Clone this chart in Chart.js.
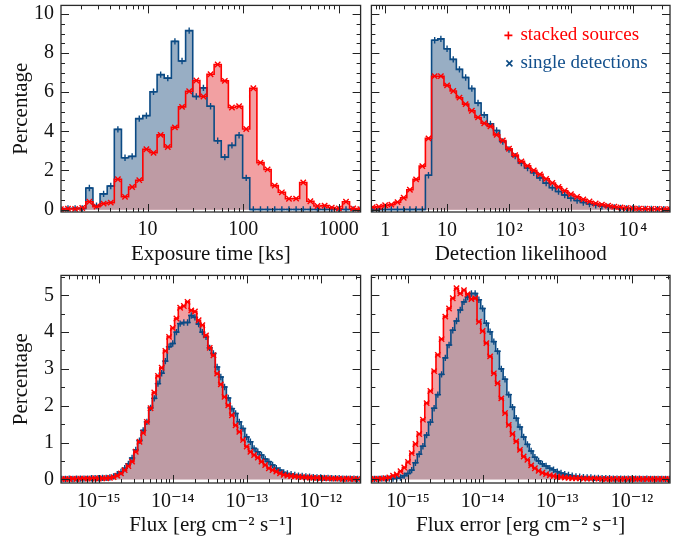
<!DOCTYPE html>
<html>
<head>
<meta charset="utf-8">
<script src="https://cdn.jsdelivr.net/npm/chart.js@4.4.1/dist/chart.umd.min.js"></script>
<style>
html,body{margin:0;padding:0;background:#ffffff;}
#wrap{position:relative;width:688px;height:543px;overflow:hidden;background:#fff;}
.pane{position:absolute;}
canvas{display:block;}
</style>
</head>
<body>
<div id="wrap">
  <div class="pane" style="left:0px;top:0px;"><canvas id="cExp" width="366" height="270"></canvas></div>
  <div class="pane" style="left:366px;top:0px;"><canvas id="cDet" width="322" height="270"></canvas></div>
  <div class="pane" style="left:0px;top:270px;"><canvas id="cFlux" width="366" height="273"></canvas></div>
  <div class="pane" style="left:366px;top:270px;"><canvas id="cFerr" width="322" height="273"></canvas></div>
</div>
<script>
// ---------------- DATA ----------------
// Exposure time [ks]: bins uniform in log10, start edge and width (dex)
const expLogStart = 0.055;
const expLogWidth = 0.0746;
const expStacked = [0.02,0.04,0.03,0.08,0.40,0.15,0.30,0.35,1.55,0.65,1.15,1.50,3.08,2.90,3.82,3.20,4.20,5.25,6.05,6.60,5.78,6.92,7.42,6.58,5.22,5.28,4.12,6.20,2.40,2.05,1.22,0.88,0.55,0.56,1.38,0.42,0.18,0.20,0.10,0.05,0.40,0.05,0.02];
const expSingle  = [0.02,0.05,0.06,0.05,1.10,0.20,0.80,1.20,4.10,2.65,2.72,4.65,4.80,6.02,6.90,6.72,8.60,7.60,9.15,5.78,6.22,5.28,3.52,2.68,3.28,3.80,1.62,0,0,0,0,0,0,0,0,0,0,0,0,0,0,0,0];

// Detection likelihood: bins of 0.1 dex starting at edge -0.25
const detLogStart = -0.25;
const detLogWidth = 0.1;
const detStacked = [0.12,0.14,0.22,0.25,0.38,0.60,1.01,1.54,2.22,3.64,6.82,6.82,6.35,6.06,5.72,5.39,5.05,4.71,4.41,4.25,3.82,3.53,3.11,2.78,2.46,2.23,2.00,1.80,1.57,1.36,1.16,0.96,0.79,0.65,0.52,0.41,0.31,0.25,0.19,0.14,0.11,0.08,0.06,0.04,0.04,0.03,0.03,0.02,0.02];
const detSingle  = [0,0,0,0,0,0,0,0,0,1.75,8.66,8.73,8.22,7.68,7.17,6.75,6.19,5.45,4.84,4.38,4.04,3.48,3.07,2.73,2.38,2.12,1.88,1.62,1.35,1.12,0.92,0.74,0.58,0.46,0.36,0.28,0.22,0.17,0.13,0.10,0.08,0.06,0.05,0.04,0.03,0.03,0.02,0.02,0.02];

// Flux and flux error [erg cm^-2 s^-1]: bins of 0.05 dex starting at edge -15.525
const fluxLogStart = -15.525;
const fluxLogWidth = 0.05;
const fluxStacked = [0.01,0.01,0.01,0.02,0.01,0.02,0.02,0.02,0.02,0.03,0.02,0.03,0.03,0.04,0.06,0.10,0.16,0.25,0.36,0.48,0.75,1.02,1.26,1.56,1.93,2.36,2.81,3.03,3.49,3.87,4.11,4.37,4.66,4.71,4.82,4.59,4.56,4.32,4.19,3.91,3.57,3.37,2.87,2.58,2.24,2.01,1.74,1.47,1.29,1.07,0.89,0.75,0.66,0.59,0.48,0.39,0.30,0.25,0.21,0.16,0.12,0.10,0.09,0.08,0.07,0.06,0.05,0.05,0.04,0.04,0.03,0.03,0.03,0.02,0.02,0.02,0.01,0.02,0.01,0.01,0.01];
const fluxSingle  = [0.01,0.01,0.02,0.01,0.02,0.02,0.02,0.02,0.03,0.03,0.03,0.04,0.04,0.05,0.08,0.14,0.20,0.30,0.42,0.58,0.80,1.05,1.33,1.56,1.94,2.20,2.60,2.88,3.21,3.60,3.69,4.00,4.23,4.26,4.26,4.45,4.40,4.22,4.00,3.87,3.57,3.42,3.05,2.78,2.51,2.21,1.92,1.79,1.56,1.38,1.15,1.02,0.84,0.75,0.66,0.55,0.48,0.39,0.30,0.25,0.19,0.16,0.14,0.12,0.10,0.09,0.08,0.07,0.06,0.05,0.05,0.04,0.04,0.03,0.03,0.03,0.02,0.02,0.02,0.02,0.01];
const ferrStacked = [0.01,0.01,0.02,0.02,0.03,0.05,0.10,0.13,0.22,0.32,0.47,0.71,0.96,1.23,1.62,2.07,2.40,2.94,3.38,3.81,4.42,4.64,4.92,5.19,5.05,5.14,5.03,4.90,4.92,4.28,4.03,3.70,3.34,2.88,2.61,2.20,1.80,1.48,1.23,1.03,0.80,0.62,0.53,0.38,0.30,0.23,0.18,0.14,0.11,0.09,0.07,0.06,0.05,0.04,0.03,0.03,0.03,0.02,0.02,0.02,0.02,0.02,0.01,0.01,0.01,0.01,0.01,0.01,0.01,0.01,0.01,0.01,0.01,0.01,0.01,0.01,0.01,0.01,0.01,0.01,0.01];
const ferrSingle  = [0.01,0.01,0.01,0.02,0.02,0.02,0.02,0.03,0.05,0.10,0.16,0.25,0.45,0.68,0.90,1.20,1.55,1.93,2.30,2.85,3.30,3.65,4.05,4.30,4.60,4.82,4.95,5.05,5.05,4.88,4.64,4.24,4.01,3.74,3.48,3.00,2.72,2.30,1.96,1.66,1.42,1.15,0.95,0.77,0.60,0.50,0.42,0.36,0.30,0.26,0.21,0.17,0.14,0.12,0.10,0.08,0.07,0.06,0.05,0.05,0.04,0.04,0.03,0.03,0.03,0.02,0.02,0.02,0.02,0.02,0.02,0.02,0.02,0.01,0.02,0.01,0.01,0.01,0.01,0.01,0.01];

// Tick values
const expTicks  = [10, 100, 1000];
const detTicks  = [1, 10, 100, 1000, 10000];
const fluxTicks = [1e-15, 1e-14, 1e-13, 1e-12];
const pctTicksTop    = [0, 2, 4, 6, 8, 10];
const pctTicksBottom = [0, 1, 2, 3, 4, 5];

// Legend
const legendLabels = ['stacked sources', 'single detections'];

// ---------------- STYLE ----------------
const RED = '#ff0000';
const PINK = '#f2a0a2';
const BLUE = '#0b4a84';
const BLUEFILL = '#98aec4';
const OVERLAP = '#be9ba4';
const FONT = "'Liberation Serif', 'Times New Roman', 'DejaVu Serif', serif";
Chart.defaults.font.family = FONT;
Chart.defaults.color = '#111';

const SUP = {'-':'\u207B','0':'\u2070','1':'\u00B9','2':'\u00B2','3':'\u00B3','4':'\u2074','5':'\u2075','6':'\u2076','7':'\u2077','8':'\u2078','9':'\u2079'};
function supStr(n){ return String(n).split('').map(c => SUP[c]).join(''); }
function expLabel(v){ return String(Math.round(v)); }
function detLabel(v){ const e = Math.round(Math.log10(v)); return e <= 1 ? String(Math.round(v)) : '10\u200A' + supStr(e); }
function fluxLabel(v){ const e = Math.round(Math.log10(v)); return '10' + supStr(e); }

// frame + inward ticks on all four sides
const frameTicks = {
  id: 'frameTicks',
  afterDatasetsDraw(chart, args, opts) {
    const {ctx, chartArea: a, scales: {x, y}} = chart;
    ctx.save();
    ctx.strokeStyle = '#222';
    ctx.lineWidth = 1;
    const seg = (x0, y0, x1, y1) => { ctx.beginPath(); ctx.moveTo(x0, y0); ctx.lineTo(x1, y1); ctx.stroke(); };
    const lo = Math.floor(Math.log10(x.min)), hi = Math.ceil(Math.log10(x.max));
    for (let n = lo; n <= hi; n++) {
      for (let m = 1; m < 10; m++) {
        const v = m * Math.pow(10, n);
        if (v <= x.min || v >= x.max) continue;
        const px = Math.round(x.getPixelForValue(v)) + 0.5;
        const L = m === 1 ? 8 : 4;
        seg(px, a.bottom, px, a.bottom - L);
        seg(px, a.top, px, a.top + L);
      }
    }
    for (let v = 0; v <= y.max + 1e-9; v += opts.yMinor) {
      const major = opts.yMajor.some(t => Math.abs(t - v) < 1e-6);
      const py = Math.round(y.getPixelForValue(v)) + 0.5;
      const L = major ? 8 : 4;
      seg(a.left, py, a.left + L, py);
      seg(a.right, py, a.right - L, py);
    }
    ctx.lineWidth = 1.3;
    ctx.strokeStyle = '#2a2a2a';
    ctx.strokeRect(a.left, a.top, a.right - a.left, a.bottom - a.top);
    ctx.restore();
  }
};

const legendPlugin = {
  id: 'legendBox',
  afterDatasetsDraw(chart) {
    const {ctx, chartArea: a} = chart;
    ctx.save();
    ctx.font = '19px ' + FONT;
    ctx.textBaseline = 'middle';
    ctx.textAlign = 'left';
    ctx.lineWidth = 1.6;
    // red plus
    let mx = a.left + 137, my = a.top + 30;
    ctx.strokeStyle = RED;
    ctx.beginPath(); ctx.moveTo(mx - 4, my); ctx.lineTo(mx + 4, my); ctx.moveTo(mx, my - 4); ctx.lineTo(mx, my + 4); ctx.stroke();
    ctx.fillStyle = RED;
    ctx.fillText(legendLabels[0], a.left + 149, my);
    // blue cross
    mx = a.left + 138; my = a.top + 58;
    ctx.strokeStyle = BLUE;
    ctx.beginPath(); ctx.moveTo(mx - 3, my - 3); ctx.lineTo(mx + 3, my + 3); ctx.moveTo(mx - 3, my + 3); ctx.lineTo(mx + 3, my - 3); ctx.stroke();
    ctx.fillStyle = '#124f8c';
    ctx.fillText(legendLabels[1], a.left + 149, my);
    ctx.restore();
  }
};

function makePanel(id, cfg) {
  const centers = cfg.stacked.map((_, k) => Math.pow(10, cfg.logStart + cfg.logWidth * (k + 0.5)));
  const st = centers.map((c, i) => ({x: c, y: cfg.stacked[i]}));
  const si = centers.map((c, i) => ({x: c, y: cfg.single[i]}));
  const ov = centers.map((c, i) => ({x: c, y: Math.min(cfg.stacked[i], cfg.single[i])}));
  const plugins = [frameTicks];
  if (cfg.legend) plugins.push(legendPlugin);
  new Chart(document.getElementById(id), {
    type: 'line',
    data: {
      datasets: [
        {label: 'overlap', data: ov, stepped: 'middle', fill: 'origin', backgroundColor: OVERLAP, borderWidth: 0, pointRadius: 0},
        {label: legendLabels[0], data: st, stepped: 'middle', fill: 'origin', backgroundColor: PINK,
         borderColor: RED, borderWidth: 1.6, pointStyle: 'crossRot', pointRadius: 3.8,
         pointBorderColor: RED, pointBackgroundColor: RED, pointBorderWidth: 1.4},
        {label: legendLabels[1], data: si, stepped: 'middle', fill: 'origin', backgroundColor: BLUEFILL,
         borderColor: BLUE, borderWidth: 1.6, pointStyle: 'cross', pointRadius: 3.2,
         pointBorderColor: BLUE, pointBackgroundColor: BLUE, pointBorderWidth: 1.4}
      ]
    },
    options: {
      responsive: false,
      animation: false,
      events: [],
      layout: {padding: cfg.pad},
      plugins: {
        legend: {display: false},
        tooltip: {enabled: false},
        filler: {drawTime: 'beforeDatasetsDraw'},
        frameTicks: {yMajor: cfg.yTicks, yMinor: 0.5}
      },
      scales: {
        x: {
          type: 'logarithmic',
          min: cfg.xMin, max: cfg.xMax,
          afterBuildTicks: s => { s.ticks = cfg.xTicks.map(v => ({value: v, major: true})); },
          afterFit: s => { s.height = cfg.xh; s.paddingLeft = 0; s.paddingRight = 0; },
          grid: {display: false, drawTicks: false},
          border: {display: false},
          ticks: {autoSkip: false, maxRotation: 0, minRotation: 0, padding: cfg.xpad, color: '#111',
                  font: {size: 20}, callback: v => cfg.xLabel(v)},
          title: {display: true, text: cfg.xTitle, color: '#111', font: {size: 21}, padding: {top: 0, bottom: cfg.xtpad}}
        },
        y: {
          type: 'linear',
          min: cfg.yMin, max: cfg.yMax,
          afterBuildTicks: s => { s.ticks = cfg.yTicks.map(v => ({value: v})); },
          afterFit: s => { s.width = cfg.yw; s.paddingTop = 0; s.paddingBottom = 0; },
          grid: {display: false, drawTicks: false},
          border: {display: false},
          ticks: {display: cfg.yLabels, padding: 7, color: '#111', font: {size: 20}, callback: v => String(v)},
          title: {display: cfg.yLabels, text: 'Percentage', color: '#111', font: {size: 21}, padding: {top: 9, bottom: 0}}
        }
      }
    },
    plugins: plugins
  });
}

makePanel('cExp', {
  stacked: expStacked, single: expSingle, logStart: expLogStart, logWidth: expLogWidth,
  xMin: Math.pow(10, 0.0938), xMax: Math.pow(10, 3.229), xTicks: expTicks, xLabel: expLabel,
  xTitle: 'Exposure time [ks]', yMin: -0.127, yMax: 10.44, yTicks: pctTicksTop, yLabels: true,
  pad: {top: 4, right: 4, left: 0, bottom: 0}, xh: 58, yw: 61, xpad: 6, xtpad: 3
});
makePanel('cDet', {
  stacked: detStacked, single: detSingle, logStart: detLogStart, logWidth: detLogWidth,
  xMin: Math.pow(10, -0.2), xMax: Math.pow(10, 4.6), xTicks: detTicks, xLabel: detLabel,
  xTitle: 'Detection likelihood', yMin: -0.127, yMax: 10.44, yTicks: pctTicksTop, yLabels: false,
  pad: {top: 4, right: 18, left: 0, bottom: 0}, xh: 58, yw: 4, xpad: 7, xtpad: 3, legend: true
});
makePanel('cFlux', {
  stacked: fluxStacked, single: fluxSingle, logStart: fluxLogStart, logWidth: fluxLogWidth,
  xMin: Math.pow(10, -15.511), xMax: Math.pow(10, -11.46), xTicks: fluxTicks, xLabel: fluxLabel,
  xTitle: 'Flux [erg cm\u207B\u00B2 s\u207B\u00B9]', yMin: -0.10, yMax: 5.54, yTicks: pctTicksBottom, yLabels: true,
  pad: {top: 5, right: 4, left: 0, bottom: 0}, xh: 60, yw: 61, xpad: 7, xtpad: 5
});
makePanel('cFerr', {
  stacked: ferrStacked, single: ferrSingle, logStart: fluxLogStart, logWidth: fluxLogWidth,
  xMin: Math.pow(10, -15.49), xMax: Math.pow(10, -11.49), xTicks: fluxTicks, xLabel: fluxLabel,
  xTitle: 'Flux error [erg cm\u207B\u00B2 s\u207B\u00B9]', yMin: -0.10, yMax: 5.54, yTicks: pctTicksBottom, yLabels: false,
  pad: {top: 5, right: 18, left: 0, bottom: 0}, xh: 60, yw: 4, xpad: 7, xtpad: 5
});
</script>
</body>
</html>
